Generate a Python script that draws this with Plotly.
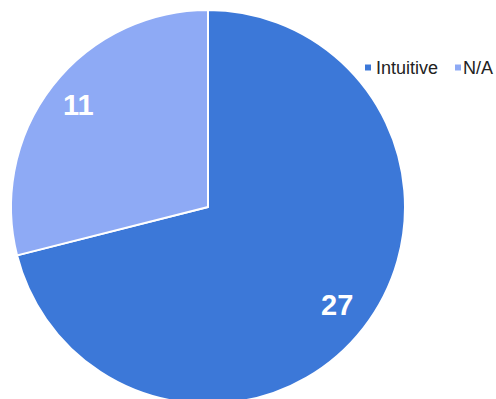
import math
import plotly.graph_objects as go

# Response counts
labels = ["Intuitive", "N/A"]
values = [27, 11]
colors = ["#3c78d8", "#8eaaf5"]

W, H = 496, 404          # figure is a few px taller than the view; the bottom of the pie runs off
CX, CY, R = 208, 207, 197  # pie centre and radius in px (from top-left)
FONT = "Arial, Liberation Sans, sans-serif"


def px(x):
    return x / W


def py(y):
    return (H - y) / H


fig = go.Figure(
    go.Pie(
        labels=labels,
        values=values,
        sort=False,
        direction="clockwise",
        rotation=0,
        marker=dict(colors=colors, line=dict(color="white", width=2)),
        textinfo="none",
        hoverinfo="label+value+percent",
        showlegend=False,
        domain=dict(x=[px(CX - R), px(CX + R)], y=[py(CY + R), py(CY - R)]),
    )
)

# value labels, placed at the middle angle of each slice
total = sum(values)
start = 0.0
annotations = []
for lab, val in zip(labels, values):
    frac = val / total
    mid = (start + frac / 2) * 2 * math.pi  # clockwise from 12 o'clock
    rr = 0.83 * R
    x = CX + rr * math.sin(mid)
    y = CY - rr * math.cos(mid) - 2
    annotations.append(dict(
        x=px(x), y=py(y), xref="paper", yref="paper",
        text=f"<b>{val}</b>", showarrow=False,
        xanchor="center", yanchor="middle",
        font=dict(family=FONT, size=29, color="white"),
    ))
    start += frac

# legend: small colour squares followed by the series names
legend_sq_x = [365, 455]
legend_text_x = [374, 461]
legend_y = 67.5
sq = 6
shapes = []
for lab, col, sx, tx in zip(labels, colors, legend_sq_x, legend_text_x):
    shapes.append(dict(
        type="rect", xref="paper", yref="paper",
        x0=px(sx), x1=px(sx + sq), y0=py(legend_y + sq / 2), y1=py(legend_y - sq / 2),
        fillcolor=col, line=dict(width=0),
    ))
    annotations.append(dict(
        x=px(tx), y=py(legend_y), xref="paper", yref="paper",
        text=lab, showarrow=False, xanchor="left", yanchor="middle",
        font=dict(family=FONT, size=18, color="#222222"),
    ))

fig.update_layout(
    width=W,
    height=H,
    margin=dict(l=0, r=0, t=0, b=0),
    paper_bgcolor="white",
    plot_bgcolor="white",
    annotations=annotations,
    shapes=shapes,
)

fig.write_html(
    "out.html",
    post_script="document.documentElement.style.overflow='hidden';document.body.style.overflow='hidden';",
)
